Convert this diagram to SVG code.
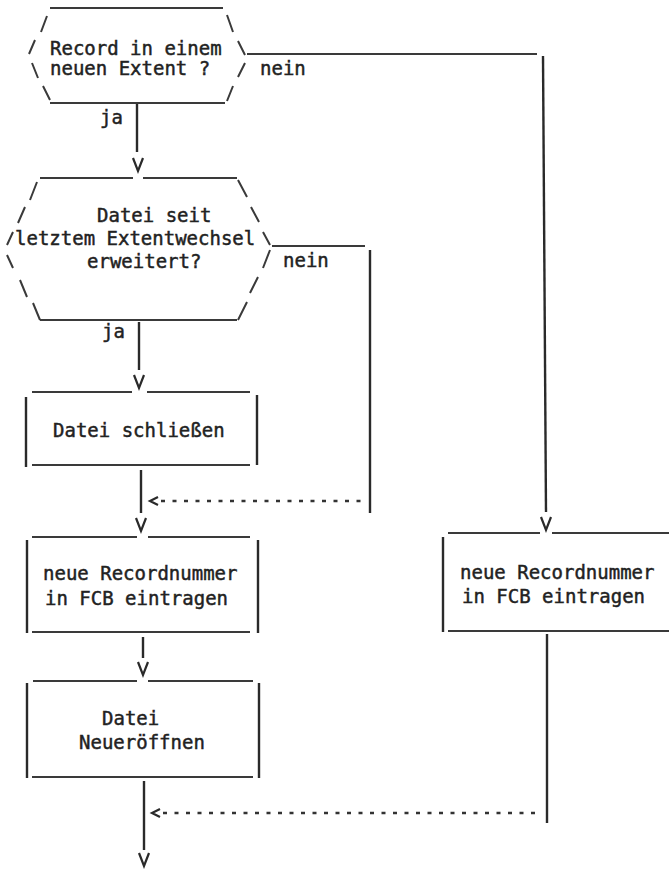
<svg xmlns="http://www.w3.org/2000/svg" xmlns:xlink="http://www.w3.org/1999/xlink" width="669" height="869" viewBox="0 0 669 869">
<style>
  .t { font-family: "DejaVu Sans Mono", "Liberation Mono", monospace; font-size: 19px; fill: #222; stroke: #222; stroke-width: 0.45; }
  .ln { fill: none; stroke: #3a3a3a; stroke-width: 2; stroke-linecap: butt; }
  .vl { fill: none; stroke: #2a2a2a; stroke-width: 2.4; }
  .dot { fill: none; stroke: #333; stroke-width: 2.6; stroke-dasharray: 4 7.5; }
  .ah { fill: none; stroke: #2a2a2a; stroke-width: 2.2; stroke-linejoin: miter; }
</style>
<defs>
  <path id="v" class="ah" d="M-5,0 L0,13 L5,0"/>
  <path id="lt" class="ah" d="M4,-4 L-4,0 L4,4"/>
</defs>
<rect width="669" height="869" fill="#fff"/>

<g id="dec1">
  <path class="ln" d="M50,8 H223 M50,103 H225"/>
  <path class="ln" d="M41,32 L47,16 M29,54 L35,40 M32,63 L38,78 M43,86 L50,100"/>
  <path class="ln" d="M227,15 L233,32 M238,41 L245,55 M245,63 L238,77 M233,86 L227,101"/>
  <text class="t" x="50" y="55">Record in einem</text>
  <text class="t" x="50" y="75">neuen Extent ?</text>
</g>

<g id="dec2">
  <path class="ln" d="M40,178 H133 M143,178 H237 M40,320 H237"/>
  <path class="ln" d="M30,200 L37,182 M18,223 L25,207 M7,245 L13,232 M7,255 L13,268 M20,280 L27,297 M33,303 L40,320"/>
  <path class="ln" d="M238,180 L247,197 M251,207 L259,222 M263,232 L270,245 M270,250 L263,268 M258,277 L250,293 M247,302 L238,320"/>
  <text class="t" x="97" y="222">Datei seit</text>
  <text class="t" x="15" y="245">letztem Extentwechsel</text>
  <text class="t" x="87" y="268">erweitert?</text>
</g>

<g id="close">
  <path class="ln" d="M32,392 H132 M147,392 H250 M32,465 H250"/>
  <path class="vl" d="M26,397 V467 M257,395 V465"/>
  <text class="t" x="53" y="437">Datei schließen</text>
</g>

<g id="recnum1">
  <path class="ln" d="M32,537 H137 M148,537 H250 M32,632 H250"/>
  <path class="vl" d="M27,540 V633 M258,540 V633"/>
  <text class="t" x="43" y="580">neue Recordnummer</text>
  <text class="t" x="45" y="605">in FCB eintragen</text>
</g>

<g id="reopen">
  <path class="ln" d="M33,681 H137 M148,681 H253 M32,777 H253"/>
  <path class="vl" d="M27,683 V778 M259,683 V778"/>
  <text class="t" x="102" y="725">Datei</text>
  <text class="t" x="79" y="749">Neueröffnen</text>
</g>

<g id="recnum2">
  <path class="ln" d="M448,533 H540 M552,533 H669 M448,631 H669"/>
  <path class="vl" d="M443,537 V632"/>
  <text class="t" x="460" y="579">neue Recordnummer</text>
  <text class="t" x="462" y="603">in FCB eintragen</text>
</g>

<g id="connectors">
  <path class="ln" d="M247,54 H537"/>
  <path class="vl" d="M543,56 L546,512"/>
  <use xlink:href="#v" x="546" y="517"/>
  <text class="t" x="260" y="75">nein</text>

  <path class="vl" d="M137,104 V152"/>
  <use xlink:href="#v" x="138" y="158"/>
  <text class="t" x="100" y="124">ja</text>

  <path class="ln" d="M272,246 H365"/>
  <path class="vl" d="M370,250 V513"/>
  <text class="t" x="283" y="267">nein</text>

  <path class="vl" d="M139,322 V370"/>
  <use xlink:href="#v" x="139" y="375"/>
  <text class="t" x="102" y="338">ja</text>

  <path class="vl" d="M141,470 V513"/>
  <use xlink:href="#v" x="141" y="518"/>
  <path class="dot" d="M161,501 H365"/>
  <use xlink:href="#lt" x="154" y="501"/>

  <path class="vl" d="M143,637 V658"/>
  <use xlink:href="#v" x="143" y="662"/>

  <path class="vl" d="M547,634 V823"/>

  <path class="vl" d="M144,781 V850"/>
  <use xlink:href="#v" x="144" y="853"/>
  <path class="dot" d="M163,813 H538"/>
  <use xlink:href="#lt" x="156" y="813"/>
</g>
</svg>
